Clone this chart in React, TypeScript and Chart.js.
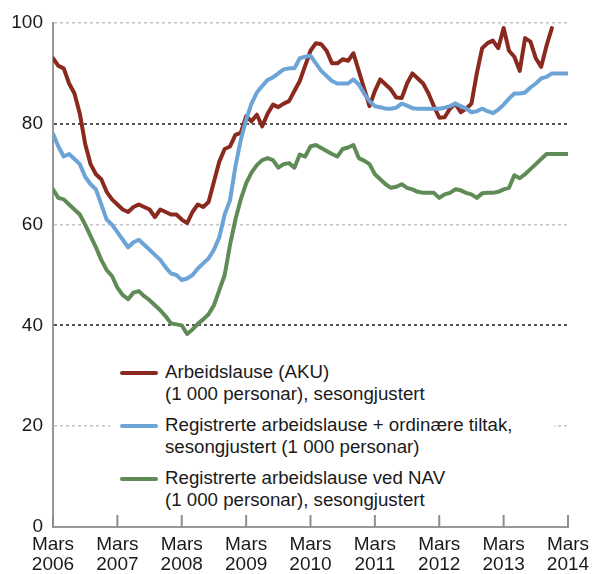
import React, { useEffect, useRef } from 'react';
import { Chart, registerables } from 'chart.js';

Chart.register(...registerables);

// Months from March 2006 (index 0) to March 2014 (index 96)
const tickMonthLabel = 'Mars';
const tickYears = ['2006', '2007', '2008', '2009', '2010', '2011', '2012', '2013', '2014'];
const yTicks = [0, 20, 40, 60, 80, 100];

// Arbeidslause (AKU), 1 000 personar, sesongjustert
const akuValues = [
  93, 91.5, 91, 88, 86, 82, 76, 72, 70, 69, 66.5, 65,
  64, 63, 62.5, 63.5, 64, 63.5, 63, 61.5, 63, 62.5, 62, 62,
  61, 60.3, 62.5, 64, 63.5, 64.5, 68.5, 72.5, 75, 75.5, 77.8, 78.2,
  81.5, 80.5, 81.8, 79.5, 82, 83.8, 83.3, 84, 84.5, 86.5, 88.5, 91.5,
  94.5, 96, 95.8, 94.5, 92, 92, 92.8, 92.5, 94, 90.5, 87, 83.5,
  86.5, 88.8, 87.8, 86.8, 85.2, 85.1, 88, 90, 89, 88, 86, 83.5,
  81.2, 81.3, 83, 84, 82.3, 83, 84, 90, 95, 96, 96.5, 95,
  99, 94.5, 93.3, 90.5, 97, 96.3, 93, 91.3, 95.5, 99,
];

// Registrerte arbeidslause + ordinære tiltak
const registeredPlusMeasures = [
  78, 75.5, 73.5, 74, 73, 72, 69.5, 68, 67, 64, 61, 60,
  58.5, 57, 55.5, 56.5, 57, 56, 55, 54, 53, 51.5, 50.3, 50,
  49, 49.3, 50, 51.3, 52.3, 53.3, 55, 57.5, 62, 64.8, 71.5, 76.8,
  80.8, 84, 86.2, 87.5, 88.7, 89.2, 90, 90.8, 91, 91, 93, 93.3,
  93.5, 92, 90.5, 89.5, 88.5, 88, 88, 88, 88.8, 87.8, 86, 84.5,
  83.5, 83.3, 83, 83, 83.2, 84, 83.6, 83.1, 83, 83, 83, 83,
  83, 83.2, 83.5, 84, 83.5, 83, 82.3, 82.5, 83, 82.5, 82.1, 82.8,
  83.8, 85, 86, 86, 86.2, 87.2, 88, 89, 89.3, 90, 90, 90, 90,
];

// Registrerte arbeidslause ved NAV
const registeredNav = [
  67, 65.3, 65, 64, 63, 62, 60, 57.7, 55.5, 53, 51, 49.8,
  47.5, 46, 45.2, 46.5, 46.8, 45.8, 45, 44, 43, 41.8, 40.4, 40.2,
  40, 38.3, 39.2, 40.3, 41.2, 42.2, 44, 47, 50, 56, 61, 65,
  68.2, 70.3, 71.8, 72.8, 73.2, 72.8, 71.3, 72, 72.2, 71.3, 73.9, 73.5,
  75.5, 75.8, 75.2, 74.6, 74, 73.5, 75, 75.3, 75.8, 73.2, 72.7, 72,
  70, 69, 68, 67.3, 67.5, 68, 67.3, 67, 66.5, 66.3, 66.3, 66.3,
  65.3, 66, 66.3, 67, 66.8, 66.3, 66, 65.3, 66.2, 66.3, 66.3, 66.5,
  67, 67.3, 69.8, 69.2, 70, 71, 72, 73, 74, 74, 74, 74, 74,
];

const seriesColors = ['#8a2a1f', '#6ca4d8', '#5f8c56'];
const legendLines = [
  ['Arbeidslause (AKU)', '(1 000 personar), sesongjustert'],
  ['Registrerte arbeidslause + ordinære tiltak,', 'sesongjustert (1 000 personar)'],
  ['Registrerte arbeidslause ved NAV', '(1 000 personar), sesongjustert'],
];

const FONT = '"Liberation Sans", Arial, sans-serif';

const toPoints = (arr: number[]) => arr.map((v, i) => ({ x: i, y: v }));

const innerTicks = {
  id: 'innerTicks',
  afterDraw(chart: any) {
    const { ctx, chartArea } = chart;
    const x = chart.scales.x;
    ctx.save();
    ctx.strokeStyle = '#8e8e8e';
    ctx.lineWidth = 2;
    x.ticks.forEach((t: any) => {
      const px = x.getPixelForValue(t.value);
      ctx.beginPath();
      ctx.moveTo(px, chartArea.bottom);
      ctx.lineTo(px, chartArea.bottom - 12);
      ctx.stroke();
    });
    ctx.restore();
  },
};

export default function App() {
  const canvasRef = useRef<HTMLCanvasElement | null>(null);

  useEffect(() => {
    if (!canvasRef.current) return;
    const datasets = [akuValues, registeredPlusMeasures, registeredNav].map((arr, i) => ({
      label: legendLines[i].join(' '),
      data: toPoints(arr),
      borderColor: seriesColors[i],
      backgroundColor: seriesColors[i],
      borderWidth: 4,
      pointRadius: 0,
      tension: 0,
      borderJoinStyle: 'round' as const,
      borderCapStyle: 'round' as const,
      fill: false,
      order: 3 - i,
    }));
    const chart = new Chart(canvasRef.current, {
      type: 'line',
      data: { datasets },
      plugins: [innerTicks],
      options: {
        animation: false,
        responsive: false,
        devicePixelRatio: 1,
        layout: { padding: { top: 23, right: 25, bottom: 0, left: 0 } },
        plugins: { legend: { display: false }, tooltip: { enabled: false } },
        scales: {
          x: {
            type: 'linear',
            min: 0,
            max: 96,
            afterFit: (s: any) => {
              s.height = 47;
              s.paddingLeft = 0;
              s.paddingRight = 0;
            },
            afterBuildTicks: (s: any) => {
              s.ticks = tickYears.map((_, i) => ({ value: i * 12 }));
            },
            ticks: {
              autoSkip: false,
              maxRotation: 0,
              padding: 8,
              color: '#1a1a1a',
              font: { family: FONT, size: 19, lineHeight: 1.05 },
              callback: (v: any) => [tickMonthLabel, tickYears[Math.round(Number(v) / 12)]],
            },
            grid: { display: false, drawTicks: false },
            border: { display: true, color: '#999999', width: 2 },
          },
          y: {
            min: 0,
            max: 100,
            afterFit: (s: any) => {
              s.width = 53;
              s.paddingTop = 0;
              s.paddingBottom = 0;
            },
            afterBuildTicks: (s: any) => {
              s.ticks = yTicks.map((v) => ({ value: v }));
            },
            ticks: {
              padding: 10,
              color: '#1a1a1a',
              font: { family: FONT, size: 19 },
            },
            grid: {
              drawTicks: false,
              color: (c: any) => {
                const v = c.tick ? c.tick.value : -1;
                if (v === 0) return 'rgba(0,0,0,0)';
                if (v === 80 || v === 40) return '#555555';
                return '#c4c4c4';
              },
              lineWidth: (c: any) => {
                const v = c.tick ? c.tick.value : -1;
                return v === 80 || v === 40 ? 2 : 1.5;
              },
            },
            border: { display: true, color: '#999999', width: 2, dash: [3, 3] },
          },
        },
      },
    });
    return () => chart.destroy();
  }, []);

  const entryTops = [361, 414, 467];

  return (
    <div style={{ position: 'fixed', left: 0, top: 0, width: 593, height: 574, background: '#fff' }}>
      <canvas ref={canvasRef} width={593} height={574} style={{ display: 'block', width: 593, height: 574 }} />
      <div
        style={{
          position: 'absolute',
          left: 110,
          top: 350,
          width: 444,
          height: 162,
          background: '#fff',
        }}
      />
      {legendLines.map((lines, i) => (
        <div key={i}>
          <div
            style={{
              position: 'absolute',
              left: 120,
              top: entryTops[i] + 10,
              width: 38,
              height: 4,
              borderRadius: 2,
              background: seriesColors[i],
            }}
          />
          <div
            style={{
              position: 'absolute',
              left: 165,
              top: entryTops[i],
              fontFamily: FONT,
              fontSize: 18.7,
              lineHeight: '21.5px',
              color: '#1a1a1a',
              whiteSpace: 'nowrap',
            }}
          >
            {lines.map((t, j) => (
              <div key={j}>{t}</div>
            ))}
          </div>
        </div>
      ))}
    </div>
  );
}
